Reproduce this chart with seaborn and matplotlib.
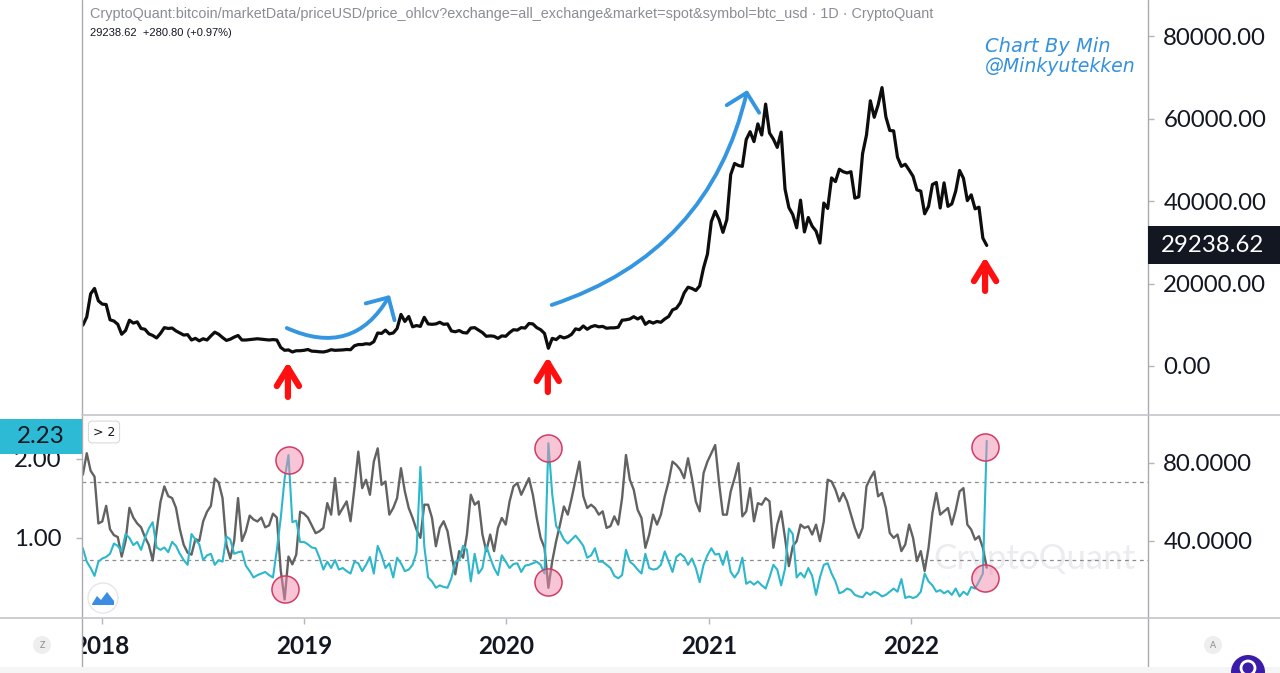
import numpy as np
import pandas as pd
import matplotlib
matplotlib.use("Agg")
import matplotlib.pyplot as plt
import matplotlib.dates as mdates
from matplotlib.patches import FancyArrowPatch, Rectangle, Ellipse, Polygon
from matplotlib.lines import Line2D
from matplotlib.ticker import FixedLocator, FuncFormatter
from matplotlib import font_manager
import seaborn as sns

# ---------------- data (weekly samples) ----------------
START_DATE = "2017-11-28"

price = [
    # 2017
    9900, 11900, 17500, 18800, 15800,
    # 2018
    15000, 14900, 11200, 10900, 10100,
    7700, 8600, 11100, 10400,
    10700, 9100, 8900, 7800,
    7400, 6800, 7900, 9300,
    9100, 9200, 8500, 8000, 7500,
    7600, 6300, 6700, 6100,
    6600, 6300, 7300, 8200, 7700,
    6900, 6200, 6500, 7000,
    7400, 6300, 6300, 6400,
    6500, 6600, 6500, 6400, 6300,
    6400, 6300, 4500, 3800,
    3900, 3400, 3700, 3700,
    # 2019
    3800, 4000, 3600, 3550, 3450,
    3400, 3600, 3950, 3800,
    3850, 3900, 4000, 3950,
    4900, 5200, 5200, 5400, 5300,
    5900, 8000, 7900, 8700,
    7800, 8000, 9100, 12500,
    10800, 12000, 9500, 9800, 9600,
    11800, 10200, 10100, 10200,
    10600, 10100, 10200, 8500,
    8300, 8600, 8100, 8000, 9200,
    9300, 8700, 8100, 7200,
    7300, 7200, 6700, 7300, 7200,
    # 2020
    8100, 8800, 8700, 9300,
    9200, 10300, 10200, 9300,
    8800, 7900, 4300, 6700, 6400,
    7200, 6800, 7100, 7700,
    9000, 8800, 9700, 8900,
    9500, 9800, 9500, 9600, 9150,
    9250, 9250, 9400, 11100,
    11200, 11400, 11950, 11400,
    11900, 10100, 10800, 10400, 10800,
    10600, 11400, 12000, 13600,
    14000, 15300, 17700, 19100,
    18800, 18300, 19400, 23800, 27100,
    # 2021
    35000, 37500, 35500, 32400,
    35500, 46400, 49100, 48600,
    48400, 54900, 56800, 54400, 58700,
    56000, 63500, 56500, 55000,
    53000, 56700, 42900, 38400,
    36700, 33500, 40200, 32500, 36000,
    33900, 32700, 29800, 39500,
    38200, 45600, 44700, 47700, 47100,
    46800, 47100, 40700, 41000,
    51500, 56000, 64300, 60300,
    63300, 67500, 60400, 57100, 57000,
    50600, 48400, 48900, 47500,
    # 2022
    46000, 42700, 42400, 36900,
    38700, 44000, 44500, 38300,
    44400, 38700, 39300, 42400, 47400,
    45500, 40100, 41500, 38100,
    38500, 31000, 29238.62,
]

indicator = [
    0.87, 0.70, 0.62, 0.52, 0.70, 0.74, 0.76, 0.80, 0.93, 0.90,
    0.83, 1.05, 1.00, 0.91, 0.95, 0.85, 1.00, 1.12, 1.20, 0.88,
    0.85, 0.88, 0.82, 0.95, 0.90, 0.80, 0.72, 0.66, 1.05, 0.98,
    0.92, 0.72, 0.78, 0.80, 0.66, 0.72, 0.70, 1.02, 0.98, 0.80,
    0.82, 0.83, 0.65, 0.58, 0.50, 0.53, 0.55, 0.57, 0.53, 0.50,
    0.85, 1.25, 1.75, 2.05, 1.20, 1.22, 0.95, 0.95, 0.92, 0.88,
    0.87, 0.75,
    0.60, 0.70, 0.62, 0.72, 0.60, 0.62, 0.58, 0.55, 0.70, 0.68,
    0.58, 0.66, 0.76, 0.55, 0.90, 0.78, 0.62, 0.68, 0.50, 0.75,
    0.68, 0.58, 0.60, 0.66, 0.82, 1.90, 0.90, 0.50, 0.45, 0.37,
    0.40, 0.38, 0.37, 0.49, 0.70, 0.72, 0.90, 0.85, 0.45, 0.80,
    0.55, 0.62, 0.90, 0.75, 0.62, 0.53, 0.78, 0.70, 0.62, 0.67,
    0.68, 0.57, 0.65, 0.66, 0.68, 0.70, 0.66, 0.55, 2.20, 1.55,
    1.15, 1.08,
    0.98, 0.93, 0.98, 1.03, 0.97, 0.90, 0.75, 0.78, 0.87, 0.70,
    0.70, 0.66, 0.62, 0.52, 0.49, 0.53, 0.85, 0.70, 0.66, 0.60,
    0.55, 0.80, 0.62, 0.60, 0.61, 0.66, 0.83, 0.70, 0.57, 0.76,
    0.80, 0.76, 0.66, 0.74, 0.62, 0.44, 0.66, 0.78, 0.87, 0.79,
    0.80, 0.66, 0.83, 0.57, 0.50, 0.57, 0.75, 0.42, 0.45, 0.41,
    0.45, 0.40, 0.36, 0.50, 0.66, 0.60, 0.40, 0.61, 1.12, 1.05,
    0.50, 0.56, 0.50, 0.62, 0.52, 0.28, 0.50, 0.66, 0.68, 0.55,
    0.45, 0.30, 0.32, 0.36, 0.34, 0.28, 0.26, 0.25, 0.31, 0.28,
    0.32, 0.30, 0.26, 0.28, 0.32, 0.36, 0.32, 0.48, 0.24, 0.26,
    0.24, 0.26, 0.32, 0.55, 0.45, 0.40, 0.32, 0.34, 0.30, 0.33,
    0.28, 0.36, 0.26, 0.32, 0.28, 0.38, 0.36, 0.45, 0.55, 2.23,
]

rsi = [
    74, 85, 76, 73, 49, 50, 58, 46, 43, 42,
    32, 40, 57, 52, 49, 47, 42, 38, 30, 45,
    60, 68, 63, 62, 57, 46, 38, 34, 33, 41,
    40, 50, 55, 58, 72, 70, 62, 38, 31, 40,
    62, 40, 45, 53, 51, 50, 52, 47, 48, 54,
    52, 25, 10, 32, 28, 33, 55, 54, 52, 48,
    44, 45,
    46.7, 59.4, 53.5, 72.2, 53.5, 56.9, 60.3, 50.1, 67.1, 85.8,
    67.1, 71.4, 63.7, 80.7, 87.5, 68.8, 70.5, 53.5, 56.9, 62.0,
    77.3, 65.4, 56.9, 51.8, 45.8, 41.6, 58.6, 58.6, 51.8, 37.3,
    46.7, 50.1, 45.0, 33.1, 22.9, 34.8, 31.4, 43.3, 63.7, 58.6,
    60.3, 43.3, 34.8, 43.3, 34.8, 46.7, 51.8, 48.4, 60.3, 68.0,
    69.7, 63.7, 68.0, 72.2, 63.7, 51.8, 41.6, 36.5, 16.0, 29.7,
    39.9, 48.4,
    57.7, 53.5, 62.0, 71.4, 80.7, 62.9, 56.9, 58.6, 56.9, 53.5,
    55.2, 46.7, 47.6, 52.6, 48.4, 62.0, 84.1, 71.4, 66.3, 56.0,
    51.8, 36.5, 43.3, 53.5, 48.4, 53.5, 62.9, 70.5, 80.7, 79.0,
    76.5, 72.2, 82.4, 72.2, 60.3, 55.2, 74.8, 80.7, 85.0, 89.2,
    69.7, 53.5, 53.5, 65.4, 72.2, 79.9, 52.6, 55.2, 67.1, 50.1,
    59.4, 58.6, 62.0, 60.3, 36.5, 48.4, 55.2, 41.6, 27.1, 37.3,
    39.9, 48.4, 46.7, 47.5, 43.3, 48.4, 39.9, 50.1, 71.4, 70.5,
    66.3, 60.3, 64.6, 60.3, 53.5, 46.7, 41.6, 46.7, 68.0, 72.2,
    75.6, 62.9, 64.6, 56.9, 44.1, 41.6, 43.3, 34.8, 38.2, 48.4,
    41.6, 29.7, 34.8, 24.6, 36.5, 54.3, 64.6, 53.5, 55.2, 56.9,
    48.4, 56.0, 65.4, 67.1, 48.4, 45.8, 40.7, 42.4, 36.5, 26.3,
]

years = ["2018", "2019", "2020", "2021", "2022"]
price_ticks = [0, 20000, 40000, 60000, 80000]
ind_ticks = [1.0, 2.0]
rsi_ticks = [40, 80]
rsi_levels = [70, 30]

# annotation anchors (data coordinates)
circle_dates = ["2018-12-05", "2018-11-28", "2020-03-16", "2020-03-16", "2022-05-14", "2022-05-14"]
circle_vals = [1.99, 0.35, 2.14, 0.44, 2.15, 0.49]
red_arrows = [("2018-12-03", -7500, 970), ("2020-03-16", -6300, 2180), ("2022-05-14", 18200, 26400)]
blue_arrows = [(("2018-12-01", 9200), ("2019-06-05", 17200), 0.45),
               (("2020-03-23", 14800), ("2021-03-11", 66900), 0.28)]

header = ("CryptoQuant:bitcoin/marketData/priceUSD/price_ohlcv?exchange=all_exchange"
          "&market=spot&symbol=btc_usd · 1D · CryptoQuant")
subheader = "29238.62  +280.80 (+0.97%)"

# ---------------- style ----------------
sns.set_theme(style="white")
names = {f.name for f in font_manager.fontManager.ttflist}
NUM_FONT = "Lato" if "Lato" in names else "Liberation Sans"
NARROW = "Liberation Sans Narrow" if "Liberation Sans Narrow" in names else None
plt.rcParams["font.family"] = [NUM_FONT, "DejaVu Sans"]

CYAN = "#2cb7cb"
GRAY = "#626262"
LINE_C = "#b4b6bc"
TXT = "#131722"

W, H = 1280, 673
fig = plt.figure(figsize=(W / 100, H / 100), dpi=100)
fig.patch.set_facecolor("white")


def fx(p):
    return p / W


def fy(p):
    return 1 - p / H


X0, X1 = 82, 1148
Y_TOP, Y_MID, Y_BOT = 0, 415, 618

ax = fig.add_axes([fx(X0), fy(Y_MID), fx(X1) - fx(X0), fy(Y_TOP) - fy(Y_MID)])
axl = fig.add_axes([fx(X0), fy(Y_BOT), fx(X1) - fx(X0), fy(Y_MID) - fy(Y_BOT)], sharex=ax)
axr = axl.twinx()
axr.set_zorder(axl.get_zorder() - 1)
axl.patch.set_visible(False)

dates = pd.date_range(START_DATE, periods=len(price), freq="7D")
df = pd.DataFrame({"date": dates, "price": price, "ind": indicator, "rsi": rsi})

sns.lineplot(data=df, x="date", y="price", ax=ax, color="#0d0d0d", linewidth=2.3)
sns.lineplot(data=df, x="date", y="rsi", ax=axr, color=GRAY, linewidth=1.7)
sns.lineplot(data=df, x="date", y="ind", ax=axl, color=CYAN, linewidth=1.5)

ax.set_xlim(pd.Timestamp("2017-11-26 10:00"), pd.Timestamp("2023-03-04"))
ax.set_ylim(-11880, 88730)
axl.set_ylim(-0.013, 2.557)
axr.set_ylim(0.5, 104.6)

for lvl in rsi_levels:
    axr.axhline(lvl, color="#8c8c8c", lw=0.9, ls=(0, (3, 3)), zorder=1)

# watermark
axr.text(0.893, 0.29, "CryptoQuant", transform=axr.transAxes, fontsize=25,
         color="#ececf0", ha="center", va="center", zorder=0)

# circles
axl.scatter(pd.to_datetime(circle_dates), circle_vals, s=380,
            facecolor=(0.94, 0.55, 0.68, 0.5), edgecolor="#d23c63", linewidth=1.1, zorder=4)

# ticks / labels
for a in (ax, axl, axr):
    for s in a.spines.values():
        s.set_visible(False)
    a.set_xlabel("")
    a.set_ylabel("")

ax.tick_params(axis="x", bottom=False, labelbottom=False)
ax.yaxis.tick_right()
ax.yaxis.set_major_locator(FixedLocator(price_ticks))
ax.yaxis.set_major_formatter(FuncFormatter(lambda v, p: f"{v:.2f}"))
ax.tick_params(axis="y", right=True, left=False, length=4, width=1, color=LINE_C,
               pad=7, labelsize=17.3, labelcolor=TXT)

axl.set_xticks([pd.Timestamp(f"{y}-01-01") for y in years])
axl.set_xticklabels(years, fontweight="bold", fontsize=17.5, color=TXT)
axl.tick_params(axis="x", bottom=True, length=4, width=1, color=LINE_C, pad=8)
axl.yaxis.set_major_locator(FixedLocator(ind_ticks))
axl.yaxis.set_major_formatter(FuncFormatter(lambda v, p: f"{v:.2f}"))
axl.tick_params(axis="y", left=True, length=4, width=1, color=LINE_C, pad=11,
                labelsize=17.3, labelcolor=TXT)

axr.yaxis.set_major_locator(FixedLocator(rsi_ticks))
axr.yaxis.set_major_formatter(FuncFormatter(lambda v, p: f"{v:.4f}"))
axr.tick_params(axis="y", right=True, length=4, width=1, color=LINE_C, pad=7,
                labelsize=17.3, labelcolor=TXT)

# arrows on price panel
for d, y0, y1 in red_arrows:
    xd = mdates.date2num(pd.Timestamp(d))
    ax.add_patch(FancyArrowPatch((xd, y0), (xd, y1), arrowstyle="->,head_length=0.65,head_width=0.4",
                                 mutation_scale=20, color="#ff1010", lw=4.5, capstyle="round",
                                 joinstyle="round", shrinkA=0, shrinkB=0, zorder=5))
for (d0, p0), (d1, p1), rad in blue_arrows:
    a0 = (mdates.date2num(pd.Timestamp(d0)), p0)
    a1 = (mdates.date2num(pd.Timestamp(d1)), p1)
    ax.add_patch(FancyArrowPatch(a0, a1, connectionstyle=f"arc3,rad={rad}",
                                 arrowstyle="->,head_length=1.0,head_width=1.0",
                                 mutation_scale=12, color="#3496e0", lw=2.8, capstyle="round",
                                 joinstyle="round", shrinkA=0, shrinkB=0, zorder=5))

# ---------------- figure-level decorations ----------------
def fig_rect(x0, y0, x1, y1, **kw):
    r = Rectangle((fx(x0), fy(y1)), fx(x1) - fx(x0), fy(y0) - fy(y1),
                  transform=fig.transFigure, **kw)
    fig.add_artist(r)
    return r


def fig_line(xs, ys, **kw):
    fig.add_artist(Line2D([fx(v) for v in xs], [fy(v) for v in ys],
                          transform=fig.transFigure, **kw))


def fig_circle(cx, cy, d, **kw):
    e = Ellipse((fx(cx), fy(cy)), d / W, d / H, transform=fig.transFigure, **kw)
    fig.add_artist(e)


fig_rect(0, 667, W, H, facecolor="#f5f5f5", edgecolor="none", zorder=3)
fig_rect(0, 620, X0 - 0.5, 666, facecolor="white", edgecolor="none", zorder=4)

fig_line([X0, X0], [0, 666], color="#a9abb0", lw=1.0, zorder=6)
fig_line([X1, X1], [0, 666], color="#a9abb0", lw=1.0, zorder=6)
fig_line([X0, W], [Y_MID, Y_MID], color="#c3c5ca", lw=1.2, zorder=6)
fig_line([0, W], [Y_BOT, Y_BOT], color="#c3c5ca", lw=1.2, zorder=6)

# last-value labels
py_price = ax.transData.transform((0, price[-1]))[1]
cy = H - py_price
fig_rect(X1, cy - 19, W, cy + 19, facecolor="#131722", edgecolor="none", zorder=7)
fig.text(fx(1213), fy(cy), f"{price[-1]:.2f}", color="white", fontsize=17.3,
         ha="center", va="center", zorder=8)

py_ind = axl.transData.transform((0, indicator[-1]))[1]
cy2 = H - py_ind - 4
fig_rect(0, cy2 - 17.5, X0, cy2 + 17.5, facecolor="#2cbad4", edgecolor="none", zorder=7)
fig.text(fx(41), fy(cy2), f"{indicator[-1]:.2f}", color=TXT, fontsize=17.3,
         ha="center", va="center", zorder=8)

# header texts
if NARROW:
    fig.text(fx(90), fy(14), header, fontsize=12.6, color="#8a8d95", va="center",
             family=[NARROW, "DejaVu Sans"])
    fig.text(fx(90), fy(33), subheader, fontsize=9.0, color=TXT, va="center",
             family=[NARROW, "DejaVu Sans"])
else:
    fig.text(fx(90), fy(14), header, fontsize=10.4, color="#8a8d95", va="center",
             family=["Liberation Sans", "DejaVu Sans"])
    fig.text(fx(90), fy(33), subheader, fontsize=8.0, color=TXT, va="center",
             family=["Liberation Sans", "DejaVu Sans"])

fig.text(fx(985), fy(46), "Chart By Min", fontsize=14, style="italic", color="#3592db",
         va="center", family=["DejaVu Sans"])
fig.text(fx(985), fy(67), "@Minkyutekken", fontsize=13.6, style="italic", color="#3592db",
         va="center", family=["DejaVu Sans"])

# small pane widgets
fig.text(fx(104), fy(432), "> 2", fontsize=9, color=TXT, ha="center", va="center",
         family=["DejaVu Sans"], zorder=8,
         bbox=dict(boxstyle="round,pad=0.35,rounding_size=0.3", fc="white", ec="#d9d9d9", lw=0.8))
fig_circle(103, 598, 30, facecolor="white", edgecolor="#e6e6e6", lw=1.0, zorder=7)
fig.add_artist(Polygon([(fx(x), fy(y)) for x, y in
                        [(92, 604), (97, 596), (101, 600), (107, 592), (114, 601), (114, 605), (92, 605)]],
                       closed=True, transform=fig.transFigure, facecolor="#3a8de2",
                       edgecolor="none", zorder=8))

fig_circle(42, 645, 18, facecolor="#eeeeee", edgecolor="none", zorder=7)
fig.text(fx(42), fy(645), "Z", fontsize=6.5, color="#8a8a8a", ha="center", va="center", zorder=8)
fig_circle(1213, 645, 18, facecolor="#eeeeee", edgecolor="none", zorder=7)
fig.text(fx(1213), fy(645), "A", fontsize=6.5, color="#8a8a8a", ha="center", va="center", zorder=8)
fig_circle(1248, 672, 34, facecolor="#3b1ca8", edgecolor="none", zorder=7)
fig_circle(1248, 668, 14, facecolor="none", edgecolor="white", lw=2.0, zorder=8)

fig.savefig("out.png", dpi=100)
